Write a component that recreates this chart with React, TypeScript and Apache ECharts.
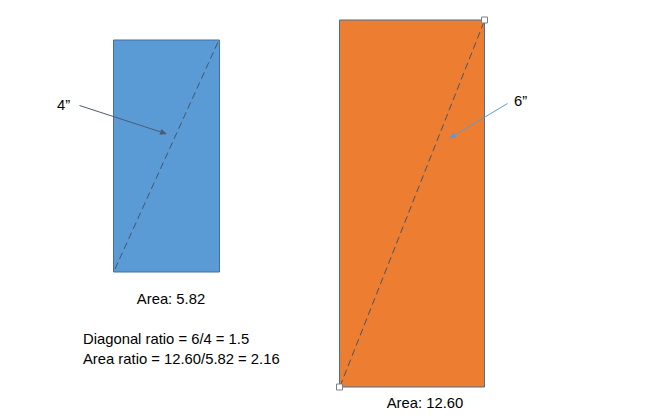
import React, { useEffect, useRef } from "react";
import * as echarts from "echarts";

// Rectangles (diagram units = pixels of the 658x420 canvas)
const rectNames = ["4-inch screen", "6-inch screen"];
const rectLeft = [113.5, 339.5];
const rectTop = [40, 20];
const rectRight = [219.5, 484.5];
const rectBottom = [272, 387];
const rectFill = ["#5B9BD5", "#ED7D31"];

// Dashed diagonals [x0, y0, x1, y1]
const diagBlue = [115, 269, 218.5, 41];
const diagOrange = [340, 386.5, 484.5, 20.5];

// Callout arrows [x0, y0, x1, y1]
const arrow4 = [79.5, 105.5, 167, 134];
const arrow6 = [507.5, 103.5, 449, 138.5];

// Selection handles
const handleX = [484.5, 339.5];
const handleY = [20, 387];

// Labels
const labelTexts = [
  "4”",
  "6”",
  "Area: 5.82",
  "Diagonal ratio = 6/4 = 1.5",
  "Area ratio = 12.60/5.82 = 2.16",
  "Area: 12.60",
];
const labelX = [57, 514, 171, 83, 83, 425];
const labelY = [105, 101, 299, 339, 358.5, 403];
const labelAlign = ["left", "left", "center", "left", "left", "center"];

const FONT = "14.8px 'Liberation Sans', Arial, sans-serif";

export default function App() {
  const ref = useRef<HTMLDivElement>(null);
  useEffect(() => {
    document.body.style.margin = "0";
    if (!ref.current) return;
    const chart = echarts.init(ref.current, null, { renderer: "svg" });

    const rectData = rectNames.map((n, i) => [
      rectLeft[i],
      rectTop[i],
      rectRight[i],
      rectBottom[i],
      i,
    ]);

    const arrowData = [
      [...arrow4, 0],
      [...arrow6, 1],
    ];
    const arrowColors = ["#4B5B73", "#5B9BD5"];

    const option: any = {
      animation: false,
      backgroundColor: "#ffffff",
      grid: { left: 0, right: 0, top: 0, bottom: 0 },
      xAxis: { type: "value", min: 0, max: 658, show: false },
      yAxis: { type: "value", min: 0, max: 420, inverse: true, show: false },
      series: [
        {
          type: "custom",
          name: "rectangles",
          silent: true,
          data: rectData,
          encode: { x: [0, 2], y: [1, 3] },
          renderItem: (params: any, api: any) => {
            const p0 = api.coord([api.value(0), api.value(1)]);
            const p1 = api.coord([api.value(2), api.value(3)]);
            const idx = api.value(4);
            return {
              type: "rect",
              shape: { x: p0[0], y: p0[1], width: p1[0] - p0[0], height: p1[1] - p0[1] },
              style: { fill: rectFill[idx], stroke: "#41719C", lineWidth: 1 },
            };
          },
        },
        {
          type: "line",
          name: "diag blue",
          silent: true,
          symbol: "none",
          data: [
            [diagBlue[0], diagBlue[1]],
            [diagBlue[2], diagBlue[3]],
          ],
          lineStyle: { color: "#44546A", width: 1, type: [7, 4] },
          z: 3,
        },
        {
          type: "line",
          name: "diag orange",
          silent: true,
          symbol: "none",
          data: [
            [diagOrange[0], diagOrange[1]],
            [diagOrange[2], diagOrange[3]],
          ],
          lineStyle: { color: "#44546A", width: 1, type: [7, 4] },
          z: 3,
        },
        {
          type: "custom",
          name: "arrows",
          silent: true,
          data: arrowData,
          encode: { x: [0, 2], y: [1, 3] },
          z: 4,
          renderItem: (params: any, api: any) => {
            const a = api.coord([api.value(0), api.value(1)]);
            const b = api.coord([api.value(2), api.value(3)]);
            const color = arrowColors[api.value(4)];
            const dx = b[0] - a[0];
            const dy = b[1] - a[1];
            const len = Math.sqrt(dx * dx + dy * dy);
            const ux = dx / len;
            const uy = dy / len;
            const hl = 7;
            const hw = 3;
            const bx = b[0] - ux * hl;
            const by = b[1] - uy * hl;
            return {
              type: "group",
              children: [
                {
                  type: "line",
                  shape: { x1: a[0], y1: a[1], x2: bx, y2: by },
                  style: { stroke: color, lineWidth: 1 },
                },
                {
                  type: "polygon",
                  shape: {
                    points: [
                      [b[0], b[1]],
                      [bx - uy * hw, by + ux * hw],
                      [bx + uy * hw, by - ux * hw],
                    ],
                  },
                  style: { fill: color },
                },
              ],
            };
          },
        },
        {
          type: "scatter",
          name: "handles",
          silent: true,
          symbol: "rect",
          symbolSize: 6,
          z: 5,
          data: handleX.map((x, i) => [x, handleY[i]]),
          itemStyle: { color: "#ffffff", borderColor: "#808080", borderWidth: 1, opacity: 1 },
        },
        {
          type: "custom",
          name: "labels",
          silent: true,
          z: 6,
          data: labelTexts.map((t, i) => [labelX[i], labelY[i], i]),
          renderItem: (params: any, api: any) => {
            const p = api.coord([api.value(0), api.value(1)]);
            const i = api.value(2);
            return {
              type: "text",
              x: p[0],
              y: p[1],
              style: {
                text: labelTexts[i],
                font: FONT,
                fill: "#000000",
                align: labelAlign[i],
                verticalAlign: "middle",
              },
            };
          },
        },
      ],
    };
    chart.setOption(option);
    return () => chart.dispose();
  }, []);
  return <div ref={ref} style={{ width: 658, height: 420 }} />;
}
